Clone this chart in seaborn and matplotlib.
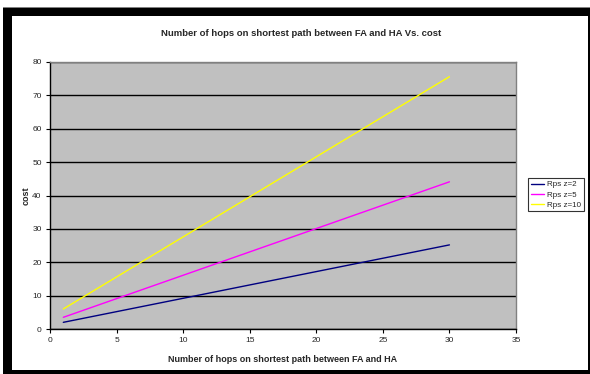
import matplotlib
matplotlib.use("Agg")
import matplotlib.pyplot as plt
import seaborn as sns
import pandas as pd
from matplotlib.patches import Rectangle

# data
hops = [1, 5, 10, 15, 20, 25, 30]
cost_z2 = [2.0, 5.2, 9.2, 13.2, 17.2, 21.2, 25.2]
cost_z5 = [3.5, 9.1, 16.1, 23.1, 30.1, 37.1, 44.1]
cost_z10 = [6.0, 15.6, 27.6, 39.6, 51.6, 63.6, 75.6]
series_names = ["Rps z=2", "Rps z=5", "Rps z=10"]
colors = ["#000080", "#FF00FF", "#FFFF00"]

rows = []
for name, vals in zip(series_names, [cost_z2, cost_z5, cost_z10]):
    for h, c in zip(hops, vals):
        rows.append({"hops": h, "cost": c, "series": name})
df = pd.DataFrame(rows)

sns.set_style("white")
plt.rcParams["font.family"] = ["Liberation Sans", "DejaVu Sans"]

W, H = 590, 374
fig = plt.figure(figsize=(W / 100, H / 100), dpi=100)

# chart frame: black shadow border, white inner area
fig.patches.append(Rectangle((3 / W, 0), 587 / W, 1 - 7 / H, transform=fig.transFigure,
                             facecolor="black", edgecolor="none", zorder=-3))
fig.patches.append(Rectangle((3 / W, 1 - 8 / H), 587 / W, 1 / H, transform=fig.transFigure,
                             facecolor="#808080", edgecolor="none", zorder=-2))
fig.patches.append(Rectangle((12 / W, 4 / H), 576 / W, 354 / H, transform=fig.transFigure,
                             facecolor="white", edgecolor="none", zorder=-1))

ax = fig.add_axes([50 / W, 1 - 329 / H, 466 / W, 267 / H])
ax.set_facecolor("#C0C0C0")

sns.lineplot(data=df, x="hops", y="cost", hue="series", palette=colors,
             hue_order=series_names, ax=ax, linewidth=1, legend=False)

ax.set_xlim(0, 35)
ax.set_ylim(0, 80)
ax.set_xticks(range(0, 36, 5))
ax.set_yticks(range(0, 81, 10))
ax.yaxis.grid(True, color="black", linewidth=1)
ax.set_axisbelow(True)
for s in ax.spines.values():
    s.set_color("#808080")
    s.set_linewidth(1)
ax.spines["left"].set_color("black")
ax.spines["bottom"].set_color("black")
ax.tick_params(axis="both", labelsize=6, length=3, width=0.8, direction="out",
               color="black", left=True, bottom=True, pad=3)

ax.set_xlabel("Number of hops on shortest path between FA and HA",
              fontsize=6.5, fontweight="bold", labelpad=8)
ax.set_ylabel("cost", fontsize=6.5, fontweight="bold", labelpad=1)

fig.text(301 / W, 1 - 34 / H, "Number of hops on shortest path between FA and HA Vs. cost",
         ha="center", va="center", fontsize=6.8, fontweight="bold")

handles = [plt.Line2D([], [], color=c, linewidth=1) for c in colors]
leg = fig.legend(handles, series_names, loc="upper left",
                 bbox_to_anchor=(528 / W, 1 - 178 / H), fontsize=5.8,
                 frameon=True, fancybox=False, handlelength=1.6,
                 borderpad=0.35, labelspacing=0.3, handletextpad=0.4, borderaxespad=0)
leg.get_frame().set_edgecolor("black")
leg.get_frame().set_linewidth(0.8)

fig.savefig("out.png", dpi=100)
